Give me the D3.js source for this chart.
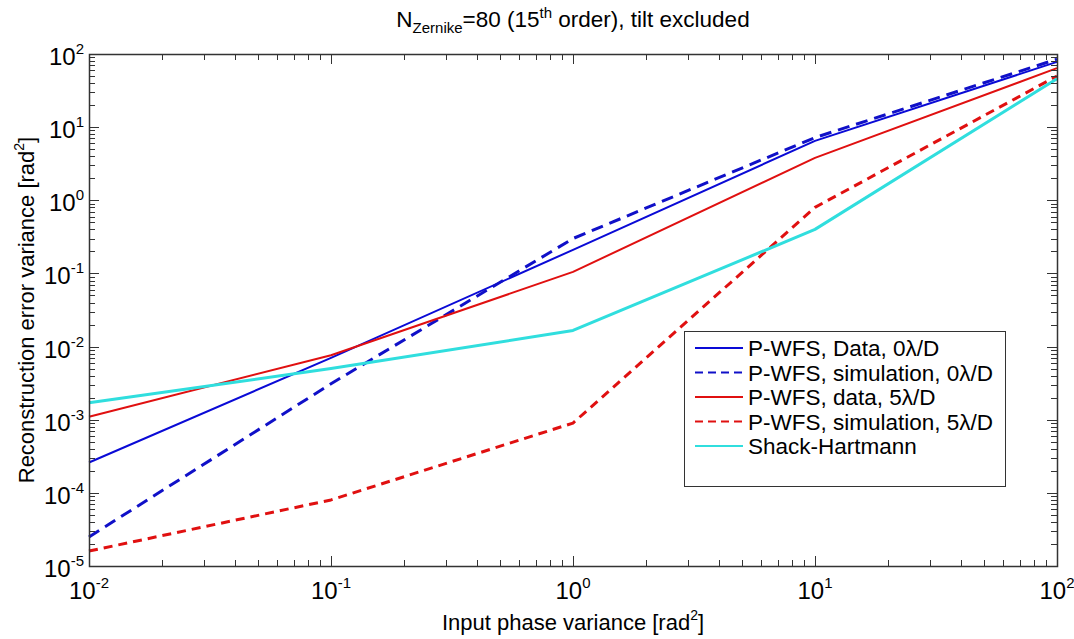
<!DOCTYPE html>
<html>
<head>
<meta charset="utf-8">
<script src="https://cdn.jsdelivr.net/npm/d3@7"></script>
<style>
  body { margin: 0; background: #fff; }
  svg { font-family: "Liberation Sans", Arial, sans-serif; }
</style>
</head>
<body>
<script>
let width = 1074;
let height = 639;
let margin = { top: 54, right: 17, bottom: 73, left: 89 };

// input phase variance (rad^2)
let xValues = [0.01, 0.1, 1, 10, 100];

// reconstruction error variance per series
let pwfsData0 = [2.6e-4, 7.0e-3, 0.21, 6.5, 78];
let pwfsSim0 = [2.5e-5, 3.1e-3, 0.30, 7.2, 85];
let pwfsData5 = [1.1e-3, 7.6e-3, 0.105, 3.8, 64];
let pwfsSim5 = [1.6e-5, 8.0e-5, 9.0e-4, 0.8, 50];
let shackHartmann = [1.7e-3, 5.0e-3, 0.0166, 0.4, 46];

let seriesNames = [
  "P-WFS, Data, 0\u03bb/D",
  "P-WFS, simulation, 0\u03bb/D",
  "P-WFS, data, 5\u03bb/D",
  "P-WFS, simulation, 5\u03bb/D",
  "Shack-Hartmann"
];

let xTickExps = [-2, -1, 0, 1, 2];
let yTickExps = [-5, -4, -3, -2, -1, 0, 1, 2];

let series = [
  { name: seriesNames[0], values: pwfsData0, color: "#0a0ad6", width: 2, dash: null },
  { name: seriesNames[1], values: pwfsSim0, color: "#1010c8", width: 3, dash: "12,7" },
  { name: seriesNames[2], values: pwfsData5, color: "#e01010", width: 2, dash: null },
  { name: seriesNames[3], values: pwfsSim5, color: "#e01010", width: 3, dash: "9,6" },
  { name: seriesNames[4], values: shackHartmann, color: "#30dede", width: 3, dash: null }
];

let svg = d3.select("body").append("svg")
  .attr("width", width)
  .attr("height", height);

let x = d3.scaleLog().domain([1e-2, 1e2]).range([margin.left, width - margin.right]);
let y = d3.scaleLog().domain([1e-5, 1e2]).range([height - margin.bottom, margin.top]);

// minor tick values
let minorX = [];
for (let e = -2; e < 2; e++) for (let k = 2; k <= 9; k++) minorX.push(k * Math.pow(10, e));
let minorY = [];
for (let e = -5; e < 2; e++) for (let k = 2; k <= 9; k++) minorY.push(k * Math.pow(10, e));

let majorX = xTickExps.map(e => Math.pow(10, e));
let majorY = yTickExps.map(e => Math.pow(10, e));

let x0 = margin.left, x1 = width - margin.right;
let y0 = height - margin.bottom, y1 = margin.top;

// lines
let line = d3.line()
  .x((d, i) => x(xValues[i]))
  .y(d => y(d));

let plot = svg.append("g");
series.forEach(s => {
  plot.append("path")
    .datum(s.values)
    .attr("fill", "none")
    .attr("stroke", s.color)
    .attr("stroke-width", s.width)
    .attr("stroke-dasharray", s.dash)
    .attr("stroke-linejoin", "round")
    .attr("d", line);
});

// ticks (inward, all four sides)
let ticks = svg.append("g").attr("stroke", "#333").attr("stroke-width", 1);
let addX = (vals, len) => vals.forEach(v => {
  let px = Math.round(x(v)) + 0.5;
  ticks.append("line").attr("x1", px).attr("x2", px).attr("y1", y0).attr("y2", y0 - len);
  ticks.append("line").attr("x1", px).attr("x2", px).attr("y1", y1).attr("y2", y1 + len);
});
let addY = (vals, len) => vals.forEach(v => {
  let py = Math.round(y(v)) + 0.5;
  ticks.append("line").attr("y1", py).attr("y2", py).attr("x1", x0).attr("x2", x0 + len);
  ticks.append("line").attr("y1", py).attr("y2", py).attr("x1", x1).attr("x2", x1 - len);
});
addX(minorX, 6);
addX(majorX, 10);
addY(minorY, 6);
addY(majorY, 10);

// box
svg.append("rect")
  .attr("x", x0 + 0.5).attr("y", y1 + 0.5)
  .attr("width", x1 - x0).attr("height", y0 - y1)
  .attr("fill", "none").attr("stroke", "#333").attr("stroke-width", 1.5);

// tick labels
let xl = svg.append("g").attr("font-size", 24).attr("fill", "#000");
xTickExps.forEach(e => {
  let t = xl.append("text")
    .attr("x", x(Math.pow(10, e)))
    .attr("y", y0 + 33)
    .attr("text-anchor", "middle");
  t.append("tspan").text("10");
  t.append("tspan").attr("font-size", 15).attr("dy", -11).text(e);
});
let yl = svg.append("g").attr("font-size", 24).attr("fill", "#000");
yTickExps.forEach(e => {
  let t = yl.append("text")
    .attr("x", x0 - 5)
    .attr("y", y(Math.pow(10, e)) + 11)
    .attr("text-anchor", "end");
  t.append("tspan").text("10");
  t.append("tspan").attr("font-size", 15).attr("dy", -11).text(e);
});

// axis titles
let xt = svg.append("text")
  .attr("x", (x0 + x1) / 2).attr("y", 630)
  .attr("text-anchor", "middle").attr("font-size", 22);
xt.append("tspan").text("Input phase variance [rad");
xt.append("tspan").attr("font-size", 14).attr("dy", -10).text("2");
xt.append("tspan").attr("dy", 10).text("]");

let yt = svg.append("text")
  .attr("transform", `translate(34,${(y0 + y1) / 2}) rotate(-90)`)
  .attr("text-anchor", "middle").attr("font-size", 22);
yt.append("tspan").text("Reconstruction error variance [rad");
yt.append("tspan").attr("font-size", 14).attr("dy", -10).text("2");
yt.append("tspan").attr("dy", 10).text("]");

// title
let title = svg.append("text")
  .attr("x", (x0 + x1) / 2).attr("y", 27)
  .attr("text-anchor", "middle").attr("font-size", 22.5);
title.append("tspan").text("N");
title.append("tspan").attr("font-size", 15).attr("dy", 6).text("Zernike");
title.append("tspan").attr("dy", -6).text("=80 (15");
title.append("tspan").attr("font-size", 15).attr("dy", -9).text("th");
title.append("tspan").attr("dy", 9).text(" order), tilt excluded");

// legend
let lg = svg.append("g").attr("transform", "translate(684,331)");
lg.append("rect")
  .attr("x", 0.5).attr("y", 0.5).attr("width", 321).attr("height", 155)
  .attr("fill", "#fff").attr("stroke", "#333").attr("stroke-width", 1);
series.forEach((s, i) => {
  let ly = 17 + i * 24.5;
  lg.append("line")
    .attr("x1", 11).attr("x2", 59).attr("y1", ly).attr("y2", ly)
    .attr("stroke", s.color)
    .attr("stroke-width", 2)
    .attr("stroke-dasharray", s.dash ? "8,5" : null);
  lg.append("text")
    .attr("x", 64).attr("y", ly + 8)
    .attr("font-size", 22.5)
    .text(s.name);
});
</script>
</body>
</html>
